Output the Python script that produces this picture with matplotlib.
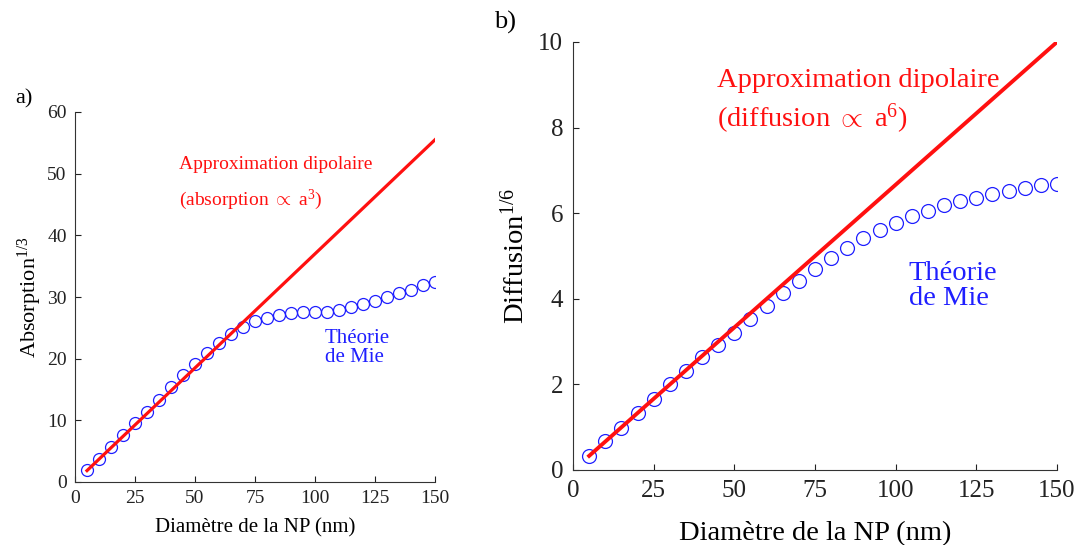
import matplotlib
matplotlib.use("Agg")
import matplotlib.pyplot as plt
import numpy as np

plt.rcParams['font.family'] = ['Liberation Serif', 'DejaVu Serif']
plt.rcParams['mathtext.fontset'] = 'custom'
plt.rcParams['mathtext.rm'] = 'Liberation Serif'
plt.rcParams['mathtext.it'] = 'Liberation Serif:italic'

# diametre des NP (nm)
diam = np.arange(5, 155, 5)

# a) absorption^(1/3) - theorie de Mie
mie_abs = [1.9, 3.8, 5.7, 7.55, 9.55, 11.4, 13.3, 15.4, 17.3, 19.2,
           20.9, 22.5, 24.0, 25.1, 26.1, 26.6, 27.1, 27.4, 27.6, 27.6,
           27.6, 27.9, 28.3, 28.9, 29.4, 29.95, 30.6, 31.2, 31.9, 32.5]
dip_abs_ends = [1.85, 55.5]

# b) diffusion^(1/6) - theorie de Mie
mie_dif = [0.32, 0.67, 0.99, 1.33, 1.67, 2.0, 2.32, 2.64, 2.93, 3.21,
           3.53, 3.84, 4.14, 4.42, 4.69, 4.95, 5.19, 5.41, 5.60, 5.78,
           5.93, 6.06, 6.18, 6.28, 6.36, 6.45, 6.52, 6.59, 6.65, 6.69]
dip_dif_ends = [0.33, 10.0]

xticks = [0, 25, 50, 75, 100, 125, 150]

RED = '#ff1010'
BLUE = '#1f1fff'

fig = plt.figure(figsize=(10.8, 5.45), dpi=100)

# ---------------- a) ----------------
ax1 = fig.add_axes([75/1080, 63/545, 360/1080, 370/545])
ax1.plot(diam, mie_abs, 'o', mfc='none', mec=BLUE, ms=8.6, mew=0.9)
ax1.plot([diam[0], diam[-1]], dip_abs_ends, color=RED, lw=2.3, zorder=3)
ax1.set_xlim(0, 150)
ax1.set_ylim(0, 60)
ax1.set_xticks(xticks)
ax1.set_yticks(range(0, 61, 10))
ax1.set_xlabel("Diamètre de la NP (nm)", fontsize=15, labelpad=8)
ax1.set_ylabel("Absorption$^{1/3}$", fontsize=16, labelpad=2)
ax1.text(43.5, 51.5, "Approximation dipolaire", color=RED, fontsize=14, va='center')
ax1.text(43.5, 45.8, r"(absorption $\propto$ a$^3$)", color=RED, fontsize=14, va='center')
ax1.text(104, 21.8, "Théorie\nde Mie", color=BLUE, fontsize=15, va='center',
         linespacing=1.0)
fig.text(15/1080, 1 - 99/545, "a)", fontsize=16, va='center')

# ---------------- b) ----------------
ax2 = fig.add_axes([573/1080, 75/545, 484/1080, 428/545])
ax2.plot(diam, mie_dif, 'o', mfc='none', mec=BLUE, ms=10, mew=0.9)
ax2.plot([diam[0], diam[-1]], dip_dif_ends, color=RED, lw=2.8, zorder=3)
ax2.set_xlim(0, 150)
ax2.set_ylim(0, 10)
ax2.set_xticks(xticks)
ax2.set_yticks(range(0, 11, 2))
ax2.set_xlabel("Diamètre de la NP (nm)", fontsize=20.5, labelpad=14)
ax2.set_ylabel("Diffusion$^{1/6}$", fontsize=20.5, labelpad=6)
ax2.text(44.5, 9.1, "Approximation dipolaire", color=RED, fontsize=20.5, va='center')
ax2.text(44.5, 8.2, r"(diffusion $\propto$ a$^6$)", color=RED, fontsize=20.5, va='center')
ax2.text(104, 4.3, "Théorie\nde Mie", color=BLUE, fontsize=20.5, va='center',
         linespacing=1.0)
fig.text(494/1080, 1 - 22/545, "b)", fontsize=19, va='center')

for ax, fs, pd in [(ax1, 14, 6), (ax2, 18, 7)]:
    ax.spines['top'].set_visible(False)
    ax.spines['right'].set_visible(False)
    for s in ['left', 'bottom']:
        ax.spines[s].set_color('#333333')
    ax.tick_params(direction='in', length=4, labelsize=fs, colors='#222222', pad=pd)

fig.savefig("out.png", dpi=100)
